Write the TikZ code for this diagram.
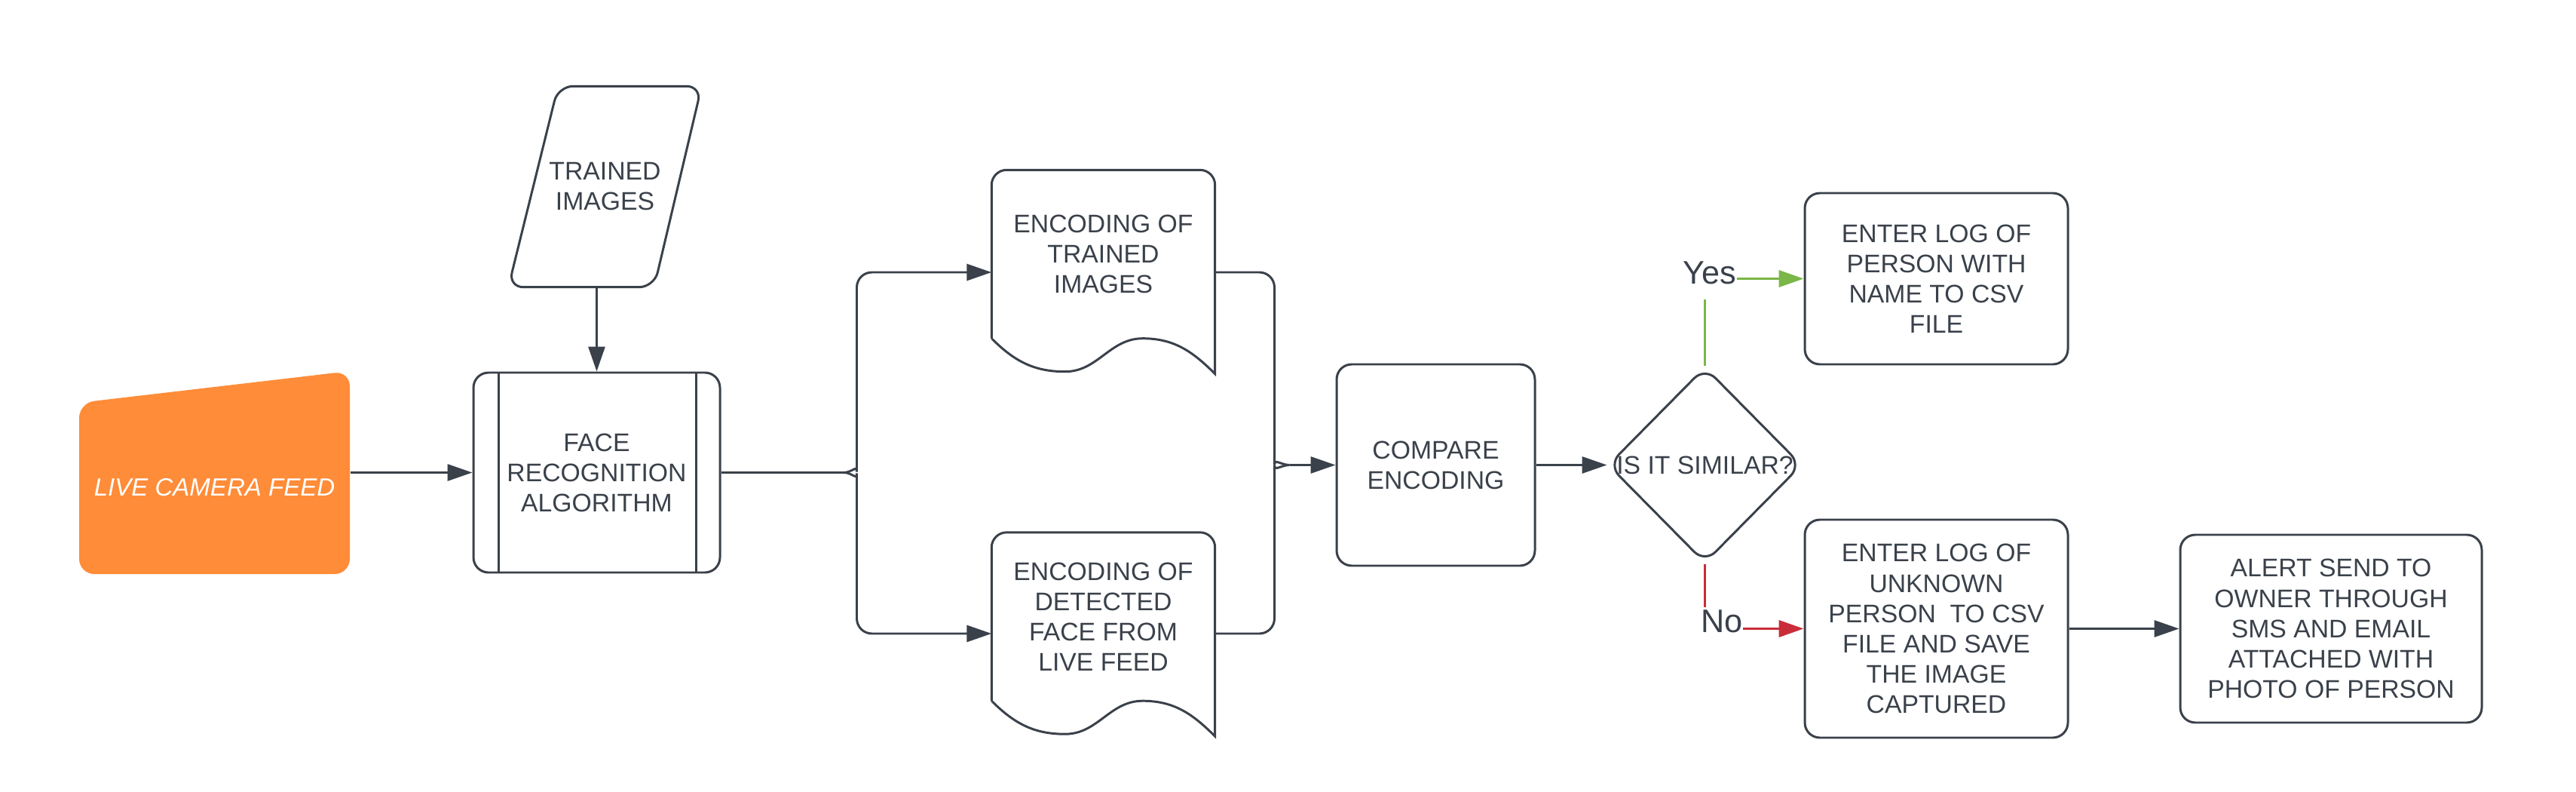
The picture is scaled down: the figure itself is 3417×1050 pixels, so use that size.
\documentclass[tikz,border=0pt]{standalone}
\usepackage{fontspec}
\setmainfont{Liberation Sans}
\usepackage{xcolor}
\usetikzlibrary{shapes.geometric,arrows.meta}
\definecolor{ink}{HTML}{3A414A}
\definecolor{livefill}{HTML}{FF8C38}
\definecolor{yesgreen}{HTML}{7AB648}
\definecolor{nored}{HTML}{C92D39}

\begin{document}
\begin{tikzpicture}[x=0.1mm, y=-0.1mm,
    every node/.style={font=\fontsize{9.6}{11.4}\selectfont, text=ink, align=center, inner sep=0pt},
    box/.style={draw=ink, line width=0.85pt, rounded corners=2mm},
    line/.style={draw=ink, line width=0.85pt},
    tip/.style={-{Triangle[length=3.3mm, width=2.2mm]}},
    flow/.style={line, tip},
    yesline/.style={draw=yesgreen, line width=1.1pt},
    noline/.style={draw=nored, line width=1.1pt},
    answer/.style={font=\fontsize{12.3}{14}\selectfont},
    doc/.style={minimum width=29.5mm, minimum height=22.2mm},
    livebox/.style={minimum width=35.9mm, minimum height=26.9mm, text=white,
        font=\fontsize{9.4}{11.4}\selectfont\itshape, text height=6.2mm, text depth=0pt,
        path picture={\fill[livefill, rounded corners=2mm]
            ([yshift=-4.2mm]path picture bounding box.north west) -- (path picture bounding box.north east)
            -- (path picture bounding box.south east) -- (path picture bounding box.south west) -- cycle;}},
    process/.style={box, minimum width=32.7mm, minimum height=26.5mm,
        path picture={\draw[ink, line width=0.85pt]
            ([xshift=3.3mm]path picture bounding box.north west) -- ([xshift=3.3mm]path picture bounding box.south west)
            ([xshift=-3.2mm]path picture bounding box.north east) -- ([xshift=-3.2mm]path picture bounding box.south east);}}]

    \useasboundingbox (0,0) rectangle (3417,1050);

    \node[livebox] (live) at (284.5,626.5) {LIVE CAMERA FEED};
    \node[minimum width=25.5mm, minimum height=26.5mm] (trained) at (802.5,247.5) {TRAINED\\IMAGES};
    \node[process] (face) at (791.5,626.5) {FACE\\RECOGNITION\\ALGORITHM};
    \node[doc] (doc1) at (1463.5,337) {ENCODING OF\\TRAINED\\IMAGES};
    \node[doc] (doc2) at (1463.5,817.5) {ENCODING OF\\DETECTED\\FACE FROM\\LIVE FEED};
    \node[box, minimum width=26.3mm, minimum height=26.7mm] (compare) at (1904.5,616.5) {COMPARE\\ENCODING};
    \node[diamond, box, minimum width=25.7mm, minimum height=26mm,
          label=center:{IS IT SIMILAR?}] (sim) at (2261.5,616.5) {};
    \node[box, minimum width=34.9mm, minimum height=22.7mm] (known) at (2568.5,369.5) {ENTER LOG OF\\PERSON WITH\\NAME TO CSV\\FILE};
    \node[box, minimum width=34.9mm, minimum height=28.9mm] (unknown) at (2568.5,833.5) {ENTER LOG OF\\UNKNOWN\\PERSON~ TO CSV\\FILE AND SAVE\\THE IMAGE\\CAPTURED};
    \node[box, minimum width=40mm, minimum height=24.9mm] (alert) at (3092,833.5) {ALERT SEND TO\\OWNER THROUGH\\SMS AND EMAIL\\ATTACHED WITH\\PHOTO OF PERSON};
    \node[answer] (yes) at (2268,362) {Yes};
    \node[answer] (no) at (2284,824) {No};

    \coordinate (split) at ([xshift=16.3mm]face.east);
    \coordinate (merge) at ([xshift=-6.1mm]compare.west);
    \coordinate (yesend) at (2261.5,397);
    \coordinate (noend) at (2261.5,805);

    \draw[line, rounded corners=2mm] ([xshift=6.6mm]trained.north west) -- (trained.north east)
        -- ([xshift=-6.3mm]trained.south east) -- (trained.south west) -- cycle;
    \draw[line, rounded corners=2mm] (doc1.south west) -- (doc1.north west) -- (doc1.north east)
        [sharp corners] -- ([yshift=-4.7mm]doc1.south east) to[out=135,in=0] ++(-96,-47)
        to[out=180,in=0] ++(-103,44) to[out=180,in=-45] (doc1.south west);
    \draw[line, rounded corners=2mm] (doc2.south west) -- (doc2.north west) -- (doc2.north east)
        [sharp corners] -- ([yshift=-4.7mm]doc2.south east) to[out=135,in=0] ++(-96,-47)
        to[out=180,in=0] ++(-103,44) to[out=180,in=-45] (doc2.south west);

    \path
        (live.east) edge[flow] (face.west)
        (trained.south -| face.north) edge[flow] (face.north)
        (merge) edge[flow] (compare.west)
        (compare.east) edge[flow] (sim.west)
        (unknown) edge[flow] (alert);

    \draw[line] (face.east) -- (split);
    \draw[flow, rounded corners=2mm] (split) to[out=0,in=-90] ++(17,-21) |- ([yshift=-2.4mm]doc1.west);
    \draw[flow, rounded corners=2mm] (split) to[out=0,in=90] ++(17,21) |- ([yshift=-2.25mm]doc2.west);
    \draw[line, rounded corners=2mm] ([yshift=-2.4mm]doc1.east) -| ([xshift=-2mm,yshift=2mm]merge) to[out=-90,in=180] (merge);
    \draw[line, rounded corners=2mm] ([yshift=-2.25mm]doc2.east) -| ([xshift=-2mm,yshift=-2mm]merge) to[out=90,in=180] (merge);

    \draw[yesline] (sim.north) -- (yesend);
    \draw[yesline, tip] (yes.east |- known.west) -- (known.west);
    \draw[noline] (sim.south) -- (noend);
    \draw[noline, tip] (no.east |- unknown.west) -- (unknown.west);

\end{tikzpicture}
\end{document}
